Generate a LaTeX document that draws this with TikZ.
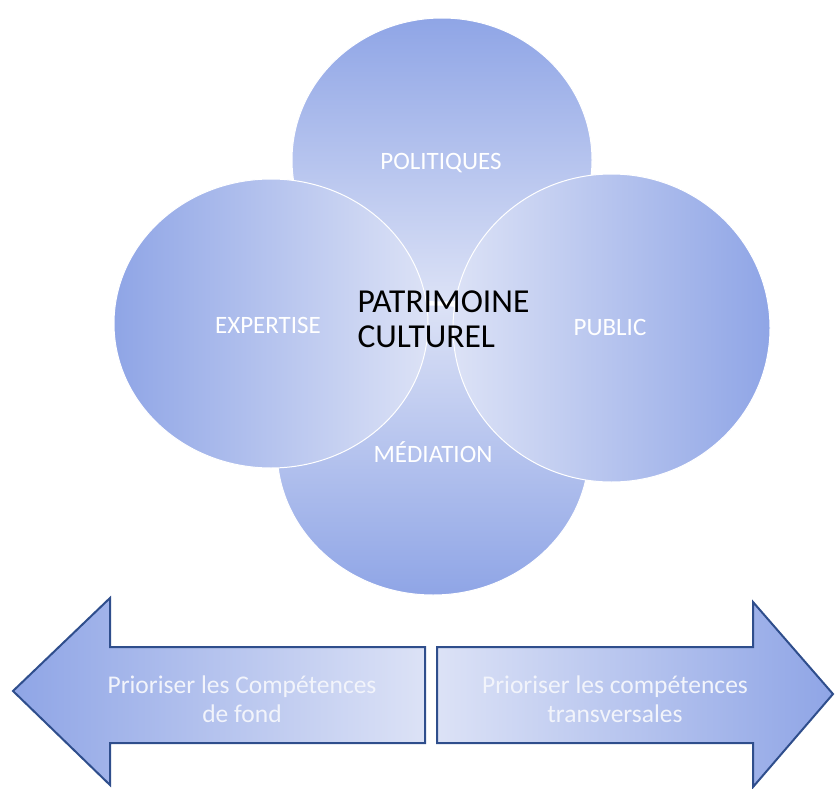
\documentclass[tikz,border=0pt]{standalone}
\usepackage{fontspec}
\setmainfont{Carlito}
\usetikzlibrary{shapes.geometric}

\definecolor{venndark}{HTML}{8FA5E6}
\definecolor{vennlight}{HTML}{DCE2F6}
\definecolor{arrowline}{HTML}{2F4E8C}
\definecolor{arrowtext}{HTML}{F2F4FB}

\tikzset{
  venn/.style={ellipse, inner sep=0pt, draw=white, line width=1pt},
  vennlabel/.style={text=white, font=\fontsize{25}{30}\selectfont},
  corelabel/.style={text=black, align=left, font=\fontsize{33.5}{35}\selectfont},
  bigarrow/.style={draw=arrowline, line width=2pt, line join=miter},
  arrowlabel/.style={text=arrowtext, align=center, font=\fontsize{25.5}{29}\selectfont}
}

\begin{document}
\begin{tikzpicture}[x=1pt, y=-1pt]
  \useasboundingbox (0,0) rectangle (835,789);

  % four overlapping ellipses, back to front
  \node[venn, minimum width=300pt, minimum height=284pt,
        top color=venndark, bottom color=vennlight] (pol) at (442,160) {};
  \node[venn, minimum width=312pt, minimum height=290pt,
        top color=vennlight, bottom color=venndark] (med) at (433,450) {};
  \node[venn, minimum width=314pt, minimum height=289pt,
        left color=venndark, right color=vennlight] (exp) at (271,323.5) {};
  \node[venn, minimum width=317pt, minimum height=308pt,
        left color=vennlight, right color=venndark] (pub) at (611.5,328) {};

  % labels
  \node[vennlabel] (tpol) at (441,163) {POLITIQUES};
  \node[vennlabel] (tmed) at (433,452) {MÉDIATION};
  \node[vennlabel] (texp) at (268,325) {EXPERTISE};
  \node[vennlabel] (tpub) at (610,327) {PUBLIC};
  \node[corelabel, anchor=west] (core) at (354,319) {PATRIMOINE\\CULTUREL};

  % two opposite block arrows
  \path[bigarrow, left color=venndark, right color=vennlight]
    (13,691) -- (110,598) -- (110,647) -- (425,647) -- (425,743)
    -- (110,743) -- (110,785) -- cycle;
  \path[bigarrow, left color=vennlight, right color=venndark]
    (833,694) -- (753,602) -- (753,647) -- (437,647) -- (437,743)
    -- (753,743) -- (753,787) -- cycle;

  \node[arrowlabel] (lfond) at (242,699) {Prioriser les Compétences\\de fond};
  \node[arrowlabel] (rtrans) at (615,699) {Prioriser les compétences\\transversales};
\end{tikzpicture}
\end{document}
